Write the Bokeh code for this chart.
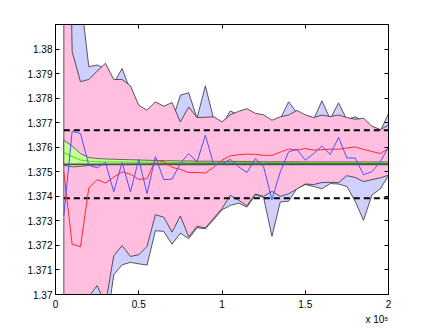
from bokeh.plotting import figure
from bokeh.models import Range1d, LinearAxis, FixedTicker, Title, CustomJSTickFormatter
from bokeh.embed import file_html
from bokeh.resources import INLINE

# ---- data ----
x_vals = [5000, 10000, 15000, 20000, 25000, 30000, 35000, 40000, 45000, 50000,
          55000, 60000, 65000, 70000, 75000, 80000, 85000, 90000, 95000, 100000,
          105000, 110000, 115000, 120000, 125000, 130000, 135000, 140000, 145000, 150000,
          155000, 160000, 165000, 170000, 175000, 180000, 185000, 190000, 195000, 200000]

pink_up = [1.4000, 1.3799, 1.37867, 1.37876, 1.37910, 1.37942, 1.37876, 1.37876, 1.37850, 1.37771,
           1.37751, 1.37785, 1.37767, 1.37782, 1.37703, 1.37764, 1.37721, 1.37722, 1.37724, 1.37703,
           1.37732, 1.37746, 1.37757, 1.37738, 1.37732, 1.37710, 1.37724, 1.37731, 1.37750, 1.37732,
           1.37721, 1.37731, 1.37725, 1.37731, 1.37721, 1.37714, 1.37718, 1.37686, 1.37672, 1.37690]
pink_lo = [1.3600, 1.3660, 1.3685, 1.36991, 1.37036, 1.36960, 1.37158, 1.37199, 1.37155, 1.37162,
           1.37196, 1.37325, 1.37315, 1.37254, 1.37320, 1.37235, 1.37278, 1.37271, 1.37311, 1.37350,
           1.37404, 1.37384, 1.37362, 1.37410, 1.37400, 1.37420, 1.37400, 1.37410, 1.37430, 1.37450,
           1.37448, 1.37456, 1.37457, 1.37456, 1.37484, 1.37477, 1.37460, 1.37468, 1.37475, 1.37486]

lav_up = [1.3600, 1.3920, 1.38218, 1.37928, 1.37935, 1.37920, 1.37860, 1.37921, 1.37830, 1.37750,
          1.37740, 1.37770, 1.37750, 1.37706, 1.37812, 1.37822, 1.37718, 1.37850, 1.37715, 1.37690,
          1.37748, 1.37730, 1.37740, 1.37725, 1.37720, 1.37700, 1.37715, 1.37785, 1.37740, 1.37720,
          1.37712, 1.37789, 1.37715, 1.37781, 1.37712, 1.37724, 1.37705, 1.37680, 1.37665, 1.37737]
lav_lo = [1.3550, 1.3600, 1.3650, 1.3670, 1.3690, 1.3685, 1.37080, 1.37121, 1.37131, 1.37125,
          1.37120, 1.37260, 1.37257, 1.37205, 1.37250, 1.37227, 1.37272, 1.37268, 1.37305, 1.37345,
          1.37363, 1.37372, 1.37356, 1.37405, 1.37395, 1.37237, 1.37377, 1.37380, 1.37432, 1.37448,
          1.37440, 1.37431, 1.37452, 1.37450, 1.37440, 1.37380, 1.37302, 1.37405, 1.37430, 1.37484]

green_up = [1.37629, 1.37605, 1.37574, 1.37558, 1.37554, 1.37552, 1.37551, 1.37550, 1.37549, 1.37548,
            1.37547, 1.37546, 1.37545, 1.37545, 1.37544, 1.37544, 1.37543, 1.37543, 1.37543, 1.37542,
            1.37542, 1.37542, 1.37542, 1.37541, 1.37541, 1.37541, 1.37541, 1.37541, 1.37541, 1.37540,
            1.37540, 1.37540, 1.37540, 1.37540, 1.37540, 1.37540, 1.37540, 1.37540, 1.37540, 1.37540]
green_mid = [1.37578, 1.37562, 1.37548, 1.37543, 1.37541, 1.37540, 1.37540, 1.37540, 1.37539, 1.37539,
             1.37539, 1.37539, 1.37539, 1.37538, 1.37538, 1.37538, 1.37538, 1.37538, 1.37538, 1.37538,
             1.37538, 1.37538, 1.37538, 1.37538, 1.37538, 1.37538, 1.37538, 1.37538, 1.37538, 1.37537,
             1.37537, 1.37537, 1.37537, 1.37537, 1.37537, 1.37537, 1.37537, 1.37537, 1.37537, 1.37537]
green_lo = [1.37527, 1.37520, 1.37522, 1.37526, 1.37528, 1.37529, 1.37530, 1.37530, 1.37531, 1.37531,
            1.37531, 1.37532, 1.37532, 1.37532, 1.37532, 1.37532, 1.37533, 1.37533, 1.37533, 1.37533,
            1.37533, 1.37533, 1.37533, 1.37533, 1.37533, 1.37534, 1.37534, 1.37534, 1.37534, 1.37534,
            1.37534, 1.37534, 1.37534, 1.37534, 1.37534, 1.37534, 1.37534, 1.37534, 1.37534, 1.37534]

red = [1.37500, 1.37205, 1.37195, 1.37434, 1.37468, 1.37454, 1.37478, 1.37500, 1.37490, 1.37469,
       1.37472, 1.37548, 1.37541, 1.37518, 1.37510, 1.37497, 1.37497, 1.37495, 1.37518, 1.37547,
       1.37565, 1.37569, 1.37572, 1.37571, 1.37567, 1.37567, 1.37580, 1.37593, 1.37588, 1.37595,
       1.37588, 1.37590, 1.37592, 1.37592, 1.37597, 1.37601, 1.37591, 1.37583, 1.37574, 1.37595]
blue = [1.37320, 1.37665, 1.37656, 1.37527, 1.37516, 1.37538, 1.37418, 1.37538, 1.37418, 1.37550,
        1.37411, 1.37562, 1.37468, 1.37470, 1.37535, 1.37574, 1.37540, 1.37649, 1.37530, 1.37532,
        1.37551, 1.37520, 1.37497, 1.37554, 1.37520, 1.37386, 1.37500, 1.37581, 1.37592, 1.37547,
        1.37574, 1.37605, 1.37570, 1.37640, 1.37556, 1.37556, 1.37488, 1.37500, 1.37540, 1.37601]

true_value = 1.3753
bound_hi = 1.37669
bound_lo = 1.37392

x_ticks = [0, 50000, 100000, 150000, 200000]
x_tick_labels = ["0", "0.5", "1", "1.5", "2"]
y_ticks = [1.37, 1.371, 1.372, 1.373, 1.374, 1.375, 1.376, 1.377, 1.378, 1.379, 1.38]
y_tick_labels = ["1.37", "1.371", "1.372", "1.373", "1.374", "1.375", "1.376", "1.377",
                 "1.378", "1.379", "1.38"]
x_scale_note = "x 10\u2075"

# ---- figure ----
FONT = "Liberation Sans"
p = figure(width=429, height=332, output_backend="svg", toolbar_location=None,
           x_range=Range1d(0, 200000), y_range=Range1d(1.37, 1.381),
           min_border_left=55, min_border_right=41, min_border_top=24, min_border_bottom=38)
p.background_fill_color = "white"
p.border_fill_color = "white"
p.grid.visible = False
p.outline_line_color = "black"
p.outline_line_width = 1

xs_poly = x_vals + x_vals[::-1]

p.patch(xs_poly, lav_up + lav_lo[::-1], fill_color="#d0d0ff", line_color="#303030", line_width=0.8)
p.patch(xs_poly, pink_up + pink_lo[::-1], fill_color="#ffbde0", line_color="#303030", line_width=0.8)
p.patch(xs_poly, green_up + green_lo[::-1], fill_color="#c8ff96", line_color="#303030", line_width=0.7)
p.line(x_vals, green_mid, line_color="#44dd11", line_width=1)
p.line([x_vals[0], x_vals[-1]], [true_value, true_value], line_color="#505050", line_width=1.6)
p.line([x_vals[0], x_vals[-1]], [bound_hi, bound_hi], line_color="black", line_width=2, line_dash="6 4")
p.line([x_vals[0], x_vals[-1]], [bound_lo, bound_lo], line_color="black", line_width=2, line_dash="6 4")
p.line(x_vals, red, line_color="#ff2a2a", line_width=1)
p.line(x_vals, blue, line_color="#5050ff", line_width=1)

def style_axis(ax):
    ax.major_tick_in = 4
    ax.major_tick_out = 0
    ax.minor_tick_line_color = None
    ax.axis_line_color = "black"
    ax.major_tick_line_color = "black"
    ax.major_label_text_font = FONT
    ax.major_label_text_font_size = "10px"
    ax.major_label_text_color = "black"

xa = p.xaxis[0]
xa.ticker = FixedTicker(ticks=x_ticks)
xa.major_label_overrides = dict(zip(x_ticks, x_tick_labels))
xa.major_label_standoff = 5
style_axis(xa)

ya = p.yaxis[0]
ya.ticker = FixedTicker(ticks=y_ticks)
ya.major_label_overrides = dict(zip(y_ticks, y_tick_labels))
ya.major_label_standoff = 3
style_axis(ya)

empty = CustomJSTickFormatter(code="return ''")
ra = LinearAxis(ticker=FixedTicker(ticks=y_ticks), formatter=empty)
style_axis(ra)
ra.major_label_text_font_size = "0px"
p.add_layout(ra, "right")
ta = LinearAxis(ticker=FixedTicker(ticks=x_ticks), formatter=empty)
style_axis(ta)
ta.major_label_text_font_size = "0px"
p.add_layout(ta, "above")

p.add_layout(Title(text=x_scale_note, align="right", text_font=FONT, text_font_size="10px",
                   text_font_style="normal", text_color="black", standoff=2), "below")

open("out.html", "w").write(file_html(p, INLINE))
